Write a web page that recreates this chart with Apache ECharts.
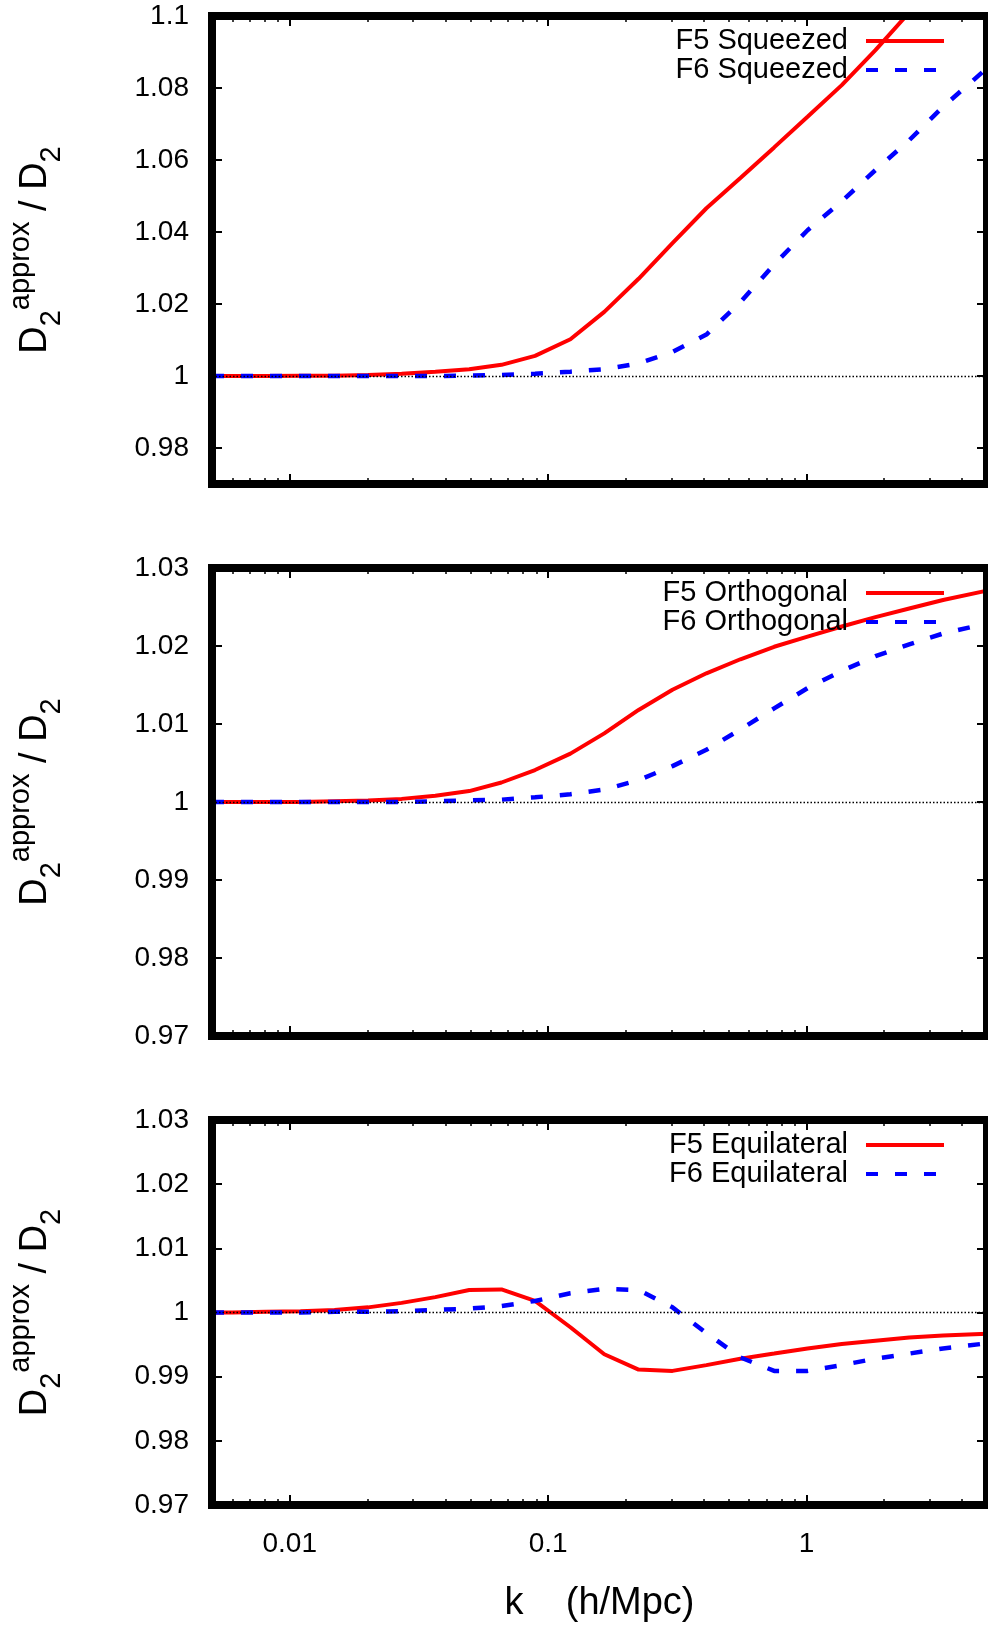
<!DOCTYPE html>
<html>
<head>
<meta charset="utf-8">
<script src="https://cdn.jsdelivr.net/npm/echarts@6/dist/echarts.min.js"></script>
<style>
html,body{margin:0;padding:0;background:#fff;}
#c{width:988px;height:1626px;}
</style>
</head>
<body>
<div id="c"></div>
<script>
// ---- data ----
const k = [0.005, 0.006, 0.0081, 0.011, 0.0149, 0.0201, 0.0271, 0.0366, 0.0495, 0.066, 0.089, 0.122,
           0.165, 0.224, 0.303, 0.41, 0.555, 0.75, 1.01, 1.37, 1.85, 2.5, 3.38, 5.0];

const f5Squeezed = [1.0000, 1.0000, 1.0000, 1.0001, 1.0001, 1.0003, 1.0006, 1.0012, 1.0019, 1.0031, 1.0056, 1.0102,
                    1.0178, 1.0270, 1.0369, 1.0466, 1.0550, 1.0635, 1.0720, 1.0808, 1.0905, 1.1010, 1.1120, 1.1260];
const f6Squeezed = [1.0000, 1.0000, 1.0000, 1.0000, 1.0000, 1.0000, 1.0000, 1.0000, 1.0001, 1.0003, 1.0006, 1.0012,
                    1.0019, 1.0035, 1.0067, 1.0115, 1.0205, 1.0310, 1.0405, 1.0485, 1.0572, 1.0655, 1.0748, 1.0855];

const f5Orthogonal = [1.0000, 1.0000, 1.0000, 1.0000, 1.0001, 1.0002, 1.0004, 1.0008, 1.0014, 1.0025, 1.0041, 1.0062,
                      1.0088, 1.0118, 1.0144, 1.0165, 1.0183, 1.0199, 1.0212, 1.0225, 1.0237, 1.0248, 1.0259, 1.0271];
const f6Orthogonal = [1.0000, 1.0000, 1.0000, 1.0000, 1.0000, 1.0000, 1.0000, 1.0001, 1.0002, 1.0003, 1.0006, 1.0010,
                      1.0016, 1.0028, 1.0046, 1.0067, 1.0093, 1.0120, 1.0146, 1.0168, 1.0187, 1.0202, 1.0216, 1.0229];

const f5Equilateral = [1.0000, 1.0000, 1.0001, 1.0002, 1.0004, 1.0008, 1.0015, 1.0024, 1.0035, 1.0036, 1.0018, 0.9977,
                       0.9935, 0.9911, 0.9909, 0.9918, 0.9928, 0.9936, 0.9944, 0.9951, 0.9956, 0.9961, 0.9964, 0.9967];
const f6Equilateral = [1.0000, 1.0000, 1.0000, 1.0000, 1.0001, 1.0001, 1.0002, 1.0004, 1.0006, 1.0010, 1.0018, 1.0030,
                       1.0037, 1.0035, 1.0008, 0.9968, 0.9930, 0.9909, 0.9909, 0.9918, 0.9928, 0.9936, 0.9944, 0.9952];

const seriesNames = [
  ['F5 Squeezed', 'F6 Squeezed'],
  ['F5 Orthogonal', 'F6 Orthogonal'],
  ['F5 Equilateral', 'F6 Equilateral']
];

const xTickValues = [0.01, 0.1, 1];
const xTickLabels = ['0.01', '0.1', '1'];
const xMinorTicks = [0.006, 0.007, 0.008, 0.009, 0.02, 0.03, 0.04, 0.05, 0.06, 0.07, 0.08, 0.09,
                     0.2, 0.3, 0.4, 0.5, 0.6, 0.7, 0.8, 0.9, 2, 3, 4];

const yTicksTop = [0.98, 1, 1.02, 1.04, 1.06, 1.08, 1.1];
const yTickLabelsTop = ['0.98', '1', '1.02', '1.04', '1.06', '1.08', '1.1'];
const yTicksLower = [0.97, 0.98, 0.99, 1, 1.01, 1.02, 1.03];
const yTickLabelsLower = ['0.97', '0.98', '0.99', '1', '1.01', '1.02', '1.03'];

const xRange = [0.005, 5];
const yRangeTop = [0.97, 1.1];
const yRangeLower = [0.97, 1.03];

// ---- layout / style ----
const FONT = 'Liberation Sans';
const panels = [
  { top: 16, height: 468, yr: yRangeTop, yt: yTicksTop, yl: yTickLabelsTop, s5: f5Squeezed, s6: f6Squeezed },
  { top: 568, height: 468, yr: yRangeLower, yt: yTicksLower, yl: yTickLabelsLower, s5: f5Orthogonal, s6: f6Orthogonal },
  { top: 1120, height: 385, yr: yRangeLower, yt: yTicksLower, yl: yTickLabelsLower, s5: f5Equilateral, s6: f6Equilateral }
];

function lookupLabel(values, labels, v) {
  let best = 0, bd = Infinity;
  values.forEach((t, i) => { const d = Math.abs(t - v) / t; if (d < bd) { bd = d; best = i; } });
  return labels[best];
}

const grid = [], xAxis = [], yAxis = [], series = [], legend = [];

panels.forEach((p, i) => {
  grid.push({
    left: 212, right: 1, top: p.top, height: p.height,
    outerBoundsMode: 'none', containLabel: false,
    show: true, borderColor: '#000', borderWidth: 8, backgroundColor: 'transparent', z: 5
  });
  const xBase = {
    type: 'log', logBase: 10, gridIndex: i, min: xRange[0], max: xRange[1],
    axisLine: { show: false }, splitLine: { show: false }, minorTick: { show: false }
  };
  const isLast = i === panels.length - 1;
  // bottom major
  xAxis.push(Object.assign({}, xBase, {
    position: 'bottom',
    axisTick: { show: true, inside: true, length: 10, lineStyle: { color: '#000', width: 2 }, customValues: xTickValues },
    axisLabel: {
      show: isLast, customValues: xTickValues, margin: 25,
      formatter: v => lookupLabel(xTickValues, xTickLabels, v),
      color: '#000', fontFamily: FONT, fontSize: 28
    },
    name: isLast ? 'k    (h/Mpc)' : '',
    nameLocation: 'middle', nameGap: 80,
    nameTextStyle: { color: '#000', fontFamily: FONT, fontSize: 38 }
  }));
  // top major
  xAxis.push(Object.assign({}, xBase, {
    position: 'top',
    axisTick: { show: true, inside: true, length: 10, lineStyle: { color: '#000', width: 2 }, customValues: xTickValues },
    axisLabel: { show: false, customValues: xTickValues }
  }));
  // bottom minor
  xAxis.push(Object.assign({}, xBase, {
    position: 'bottom',
    axisTick: { show: true, inside: true, length: 6, lineStyle: { color: '#000', width: 1.5 }, customValues: xMinorTicks },
    axisLabel: { show: false, customValues: xMinorTicks }
  }));
  // top minor
  xAxis.push(Object.assign({}, xBase, {
    position: 'top',
    axisTick: { show: true, inside: true, length: 6, lineStyle: { color: '#000', width: 1.5 }, customValues: xMinorTicks },
    axisLabel: { show: false, customValues: xMinorTicks }
  }));

  const yBase = {
    type: 'value', gridIndex: i, min: p.yr[0], max: p.yr[1],
    axisLine: { show: false }, splitLine: { show: false }
  };
  yAxis.push(Object.assign({}, yBase, {
    position: 'left',
    axisTick: { show: true, inside: true, length: 10, lineStyle: { color: '#000', width: 2 }, customValues: p.yt },
    axisLabel: {
      customValues: p.yt, margin: 23,
      formatter: v => lookupLabel(p.yt, p.yl, v),
      color: '#000', fontFamily: FONT, fontSize: 28
    },
    name: '{D|D}{sub|2}{sup|approx}{D| / D}{sub|2}',
    nameLocation: 'middle', nameRotate: 90, nameGap: 146,
    nameTextStyle: {
      color: '#000', fontFamily: FONT,
      rich: {
        D: { fontSize: 38, lineHeight: 60, verticalAlign: 'middle', fontFamily: FONT, color: '#000' },
        sub: { fontSize: 29, lineHeight: 24, verticalAlign: 'bottom', fontFamily: FONT, color: '#000' },
        sup: { fontSize: 29, lineHeight: 44, verticalAlign: 'top', fontFamily: FONT, color: '#000' }
      }
    }
  }));
  yAxis.push(Object.assign({}, yBase, {
    position: 'right',
    axisTick: { show: true, inside: true, length: 10, lineStyle: { color: '#000', width: 2 }, customValues: p.yt },
    axisLabel: { show: false, customValues: p.yt }
  }));

  const names = seriesNames[i];
  series.push({
    type: 'line', name: names[0], xAxisIndex: i * 4, yAxisIndex: i * 2,
    data: k.map((x, j) => [x, p.s5[j]]),
    symbol: 'none', showSymbol: false, smooth: false, z: 3,
    lineStyle: { color: '#ff0000', width: 4 }, itemStyle: { color: '#ff0000' },
    markLine: {
      silent: true, symbol: ['none', 'none'], label: { show: false },
      lineStyle: { color: '#000', type: [1.5, 2], width: 1.3 },
      data: [{ yAxis: 1 }], animation: false
    }
  });
  series.push({
    type: 'line', name: names[1], xAxisIndex: i * 4, yAxisIndex: i * 2,
    data: k.map((x, j) => [x, p.s6[j]]),
    symbol: 'none', showSymbol: false, smooth: false, z: 3,
    lineStyle: { color: '#0000ff', width: 4.5, type: [12, 17] }, itemStyle: { color: '#0000ff' }
  });

  legend.push({
    data: names, orient: 'vertical', align: 'right', right: 42, top: p.top + 25 - 14.5,
    padding: 0, itemGap: 0, itemWidth: 78, itemHeight: 14, selectedMode: false,
    itemStyle: { color: 'transparent', borderColor: 'transparent', borderWidth: 0, opacity: 0 },
    lineStyle: { width: 4 },
    textStyle: { color: '#000', fontFamily: FONT, fontSize: 29, lineHeight: 29, padding: [0, 13, 0, 0] }
  });
});

const chart = echarts.init(document.getElementById('c'), null, { renderer: 'canvas' });
chart.setOption({
  backgroundColor: '#fff',
  animation: false,
  grid, xAxis, yAxis, series, legend
});
</script>
</body>
</html>
